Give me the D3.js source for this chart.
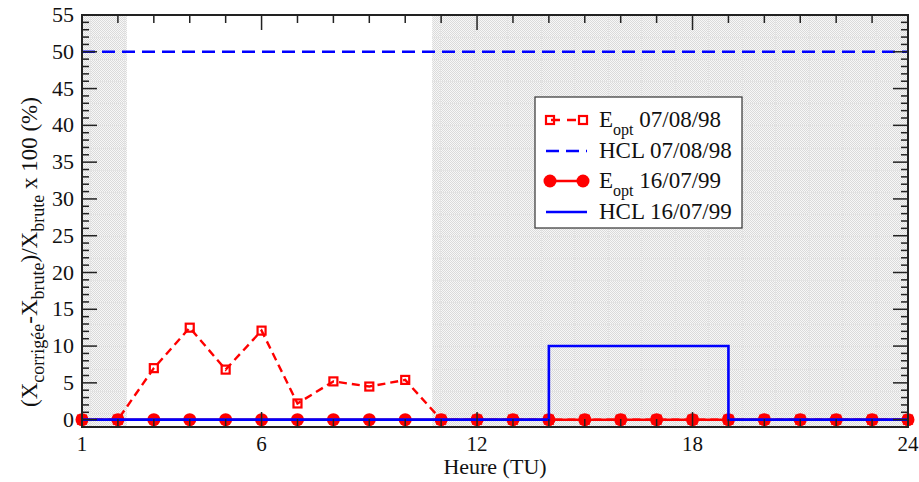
<!DOCTYPE html>
<html>
<head>
<meta charset="utf-8">
<script src="https://cdn.jsdelivr.net/npm/d3@7"></script>
<style>
  html, body { margin: 0; padding: 0; background: #fff; }
  svg { display: block; }
</style>
</head>
<body>
<svg id="chart" width="919" height="482"></svg>
<script>
// Heures (TU) et séries
const hours = [1, 2, 3, 4, 5, 6, 7, 8, 9, 10, 11, 12, 13, 14, 15, 16, 17, 18, 19, 20, 21, 22, 23, 24];
const eopt98 = [0, 0, 7.0, 12.5, 6.8, 12.1, 2.2, 5.2, 4.5, 5.4, 0, 0, 0, 0, 0, 0, 0, 0, 0, 0, 0, 0, 0, 0];
const eopt99 = [0, 0, 0, 0, 0, 0, 0, 0, 0, 0, 0, 0, 0, 0, 0, 0, 0, 0, 0, 0, 0, 0, 0, 0];
const hcl98X = [1, 24];
const hcl98Y = [50, 50];
const hcl99X = [1, 14, 14, 19, 19, 24];
const hcl99Y = [0, 0, 10, 10, 0, 0];
// périodes grisées (nuit)
const nightStart = [1, 10.75];
const nightEnd = [2.25, 24];
const xTickLabels = [1, 6, 12, 18, 24];
const yTickLabels = [0, 5, 10, 15, 20, 25, 30, 35, 40, 45, 50, 55];
const legendLabels = [
  ['E', 'opt', ' 07/08/98'],
  ['HCL 07/08/98', '', ''],
  ['E', 'opt', ' 16/07/99'],
  ['HCL 16/07/99', '', '']
];

const RED = '#ff0000', BLUE = '#0000ff', INK = '#222';
const SERIF = '"Liberation Serif", "Times New Roman", serif';
const M = { l: 82, r: 908, t: 15, b: 427 };

const svg = d3.select('#chart').attr('font-family', SERIF);
const x = d3.scaleLinear().domain([1, 24]).range([M.l, M.r]);
const y = d3.scaleLinear().domain([-1, 55]).range([M.b, M.t]);

// motif de fond : damier fin
const defs = svg.append('defs');
const pat = defs.append('pattern').attr('id', 'night')
  .attr('patternUnits', 'userSpaceOnUse').attr('width', 2).attr('height', 2);
pat.append('rect').attr('width', 2).attr('height', 2).attr('fill', '#f7f7f7');
pat.append('rect').attr('width', 1).attr('height', 1).attr('fill', '#dadada');
pat.append('rect').attr('x', 1).attr('y', 1).attr('width', 1).attr('height', 1).attr('fill', '#dadada');

svg.append('g').selectAll('rect').data(nightStart).join('rect')
  .attr('x', (d, i) => x(d)).attr('y', M.t)
  .attr('width', (d, i) => x(nightEnd[i]) - x(d)).attr('height', M.b - M.t)
  .attr('fill', 'url(#night)');

// trame grise claire dans les zones de nuit
const gGrid = svg.append('g').attr('stroke', '#e4e4e4').attr('stroke-width', 1);
nightStart.forEach((s, i) => {
  const x0 = x(s), x1 = x(nightEnd[i]);
  d3.range(M.t + 22, M.b, 22.1).forEach(yy => {
    gGrid.append('line').attr('x1', x0).attr('x2', x1).attr('y1', Math.round(yy) + 0.5).attr('y2', Math.round(yy) + 0.5);
  });
  d3.range(x0 + 8, x1, 33.5).forEach(xx => {
    gGrid.append('line').attr('x1', Math.round(xx) + 0.5).attr('x2', Math.round(xx) + 0.5).attr('y1', M.t).attr('y2', M.b);
  });
});

const line = d3.line().x(d => x(d[0])).y(d => y(d[1]));
const pts98 = hours.map((h, i) => [h, eopt98[i]]);
const pts99 = hours.map((h, i) => [h, eopt99[i]]);

// E_opt 07/08/98 : tirets rouges, carrés ouverts
svg.append('path').datum(pts98).attr('d', line)
  .attr('fill', 'none').attr('stroke', RED).attr('stroke-width', 2.4).attr('stroke-dasharray', '8,5');
svg.append('g').selectAll('rect').data(pts98).join('rect')
  .attr('x', d => x(d[0]) - 4).attr('y', d => y(d[1]) - 4)
  .attr('width', 8).attr('height', 8)
  .attr('fill', 'none').attr('stroke', RED).attr('stroke-width', 2.2);

// HCL 07/08/98 : tirets bleus
svg.append('path').datum(hcl98X.map((v, i) => [v, hcl98Y[i]])).attr('d', line)
  .attr('fill', 'none').attr('stroke', BLUE).attr('stroke-width', 2.6).attr('stroke-dasharray', '13,7');

// E_opt 16/07/99 : trait rouge, ronds pleins
svg.append('path').datum(pts99).attr('d', line)
  .attr('fill', 'none').attr('stroke', RED).attr('stroke-width', 2.5);
svg.append('g').selectAll('circle').data(pts99).join('circle')
  .attr('cx', d => x(d[0])).attr('cy', d => y(d[1])).attr('r', 6.5).attr('fill', RED);

// HCL 16/07/99 : trait bleu
svg.append('path').datum(hcl99X.map((v, i) => [v, hcl99Y[i]])).attr('d', line)
  .attr('fill', 'none').attr('stroke', BLUE).attr('stroke-width', 2.6);

// axes : cadre + graduations intérieures
const gAx = svg.append('g').attr('stroke', INK).attr('stroke-width', 1.5);
hours.forEach(h => {
  const L = xTickLabels.includes(h) ? 15 : 8;
  gAx.append('line').attr('x1', x(h)).attr('x2', x(h)).attr('y1', M.b).attr('y2', M.b - L);
  gAx.append('line').attr('x1', x(h)).attr('x2', x(h)).attr('y1', M.t).attr('y2', M.t + L);
});
d3.range(0, 56).forEach(v => {
  const L = v % 5 === 0 ? 15 : 7;
  gAx.append('line').attr('x1', M.l).attr('x2', M.l + L).attr('y1', y(v)).attr('y2', y(v));
  gAx.append('line').attr('x1', M.r).attr('x2', M.r - L).attr('y1', y(v)).attr('y2', y(v));
});
svg.append('rect').attr('x', M.l).attr('y', M.t).attr('width', M.r - M.l).attr('height', M.b - M.t)
  .attr('fill', 'none').attr('stroke', INK).attr('stroke-width', 2);

svg.append('g').selectAll('text').data(xTickLabels).join('text')
  .attr('x', d => x(d)).attr('y', 451).attr('text-anchor', 'middle')
  .attr('font-size', 21).attr('fill', '#111').text(d => d);
svg.append('g').selectAll('text').data(yTickLabels).join('text')
  .attr('x', 74).attr('y', d => y(d) + 7).attr('text-anchor', 'end')
  .attr('font-size', 22).attr('fill', '#111').text(d => d);

svg.append('text').attr('x', (M.l + M.r) / 2).attr('y', 474).attr('text-anchor', 'middle')
  .attr('font-size', 22).attr('fill', '#111').text('Heure (TU)');

// titre de l'axe Y avec indices
const yl = svg.append('text').attr('transform', 'translate(37,407) rotate(-90)')
  .attr('text-anchor', 'start').attr('font-size', 23).attr('fill', '#111');
const ySegs = [['(X', false], ['corrigée', true], ['-X', false], ['brute', true], [')/X', false], ['brute', true], [' x 100 (%)', false]];
let prevSub = false;
ySegs.forEach(([s, sub]) => {
  const t = yl.append('tspan').text(s);
  if (sub) t.attr('font-size', 18).attr('dy', 7);
  else if (prevSub) t.attr('dy', -7);
  prevSub = sub;
});

// légende
const LG = { x: 535, y: 97, w: 207, h: 131 };
const lg = svg.append('g');
lg.append('rect').attr('x', LG.x).attr('y', LG.y).attr('width', LG.w).attr('height', LG.h)
  .attr('fill', '#fff').attr('stroke', '#333').attr('stroke-width', 1.2);
const rowY = [120, 151, 181, 212];
const sx0 = 550, sx1 = 583;
// ligne 1
lg.append('line').attr('x1', sx0).attr('x2', sx1).attr('y1', rowY[0]).attr('y2', rowY[0])
  .attr('stroke', RED).attr('stroke-width', 2.4).attr('stroke-dasharray', '9,7').attr('stroke-dashoffset', -1);
[sx0, sx1].forEach(cx => lg.append('rect').attr('x', cx - 4).attr('y', rowY[0] - 4).attr('width', 8).attr('height', 8)
  .attr('fill', 'none').attr('stroke', RED).attr('stroke-width', 2.2));
// ligne 2
lg.append('line').attr('x1', sx0 - 4).attr('x2', sx1 + 4).attr('y1', rowY[1]).attr('y2', rowY[1])
  .attr('stroke', BLUE).attr('stroke-width', 2.6).attr('stroke-dasharray', '13,7');
// ligne 3
lg.append('line').attr('x1', sx0).attr('x2', sx1).attr('y1', rowY[2]).attr('y2', rowY[2])
  .attr('stroke', RED).attr('stroke-width', 2.5);
[sx0, sx1].forEach(cx => lg.append('circle').attr('cx', cx).attr('cy', rowY[2]).attr('r', 6.5).attr('fill', RED));
// ligne 4
lg.append('line').attr('x1', sx0 - 4).attr('x2', sx1 + 4).attr('y1', rowY[3]).attr('y2', rowY[3])
  .attr('stroke', BLUE).attr('stroke-width', 2.6);

legendLabels.forEach((lab, i) => {
  const t = lg.append('text').attr('x', 599).attr('y', rowY[i] + 7).attr('font-size', 23).attr('fill', '#111');
  t.append('tspan').text(lab[0]);
  if (lab[1]) {
    t.append('tspan').attr('font-size', 16).attr('dy', 8).text(lab[1]);
    t.append('tspan').attr('dy', -8).text(lab[2]);
  }
});
</script>
</body>
</html>
